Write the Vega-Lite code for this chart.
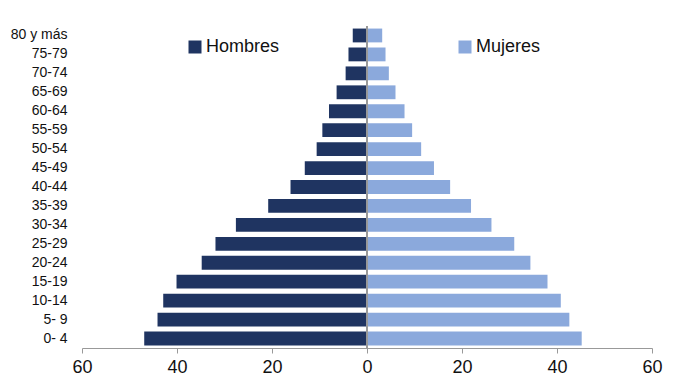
{
  "$schema": "https://vega.github.io/schema/vega-lite/v6.json",
  "width": 570,
  "height": 322,
  "autosize": "none",
  "padding": {"left": 82, "top": 26, "right": 33, "bottom": 37},
  "background": "white",
  "config": {"view": {"stroke": null}, "font": "Liberation Sans"},
  "data": {
    "values": [
      {"edad": "80 y más", "sexo": "Hombres", "valor": 3.0},
      {"edad": "75-79", "sexo": "Hombres", "valor": 3.9},
      {"edad": "70-74", "sexo": "Hombres", "valor": 4.5},
      {"edad": "65-69", "sexo": "Hombres", "valor": 6.4},
      {"edad": "60-64", "sexo": "Hombres", "valor": 8.0},
      {"edad": "55-59", "sexo": "Hombres", "valor": 9.4},
      {"edad": "50-54", "sexo": "Hombres", "valor": 10.6},
      {"edad": "45-49", "sexo": "Hombres", "valor": 13.1},
      {"edad": "40-44", "sexo": "Hombres", "valor": 16.1},
      {"edad": "35-39", "sexo": "Hombres", "valor": 20.8},
      {"edad": "30-34", "sexo": "Hombres", "valor": 27.6},
      {"edad": "25-29", "sexo": "Hombres", "valor": 31.9},
      {"edad": "20-24", "sexo": "Hombres", "valor": 34.8},
      {"edad": "15-19", "sexo": "Hombres", "valor": 40.1},
      {"edad": "10-14", "sexo": "Hombres", "valor": 42.9},
      {"edad": "5- 9", "sexo": "Hombres", "valor": 44.1},
      {"edad": "0- 4", "sexo": "Hombres", "valor": 46.9},
      {"edad": "80 y más", "sexo": "Mujeres", "valor": 3.2},
      {"edad": "75-79", "sexo": "Mujeres", "valor": 3.9},
      {"edad": "70-74", "sexo": "Mujeres", "valor": 4.6},
      {"edad": "65-69", "sexo": "Mujeres", "valor": 6.0},
      {"edad": "60-64", "sexo": "Mujeres", "valor": 7.9},
      {"edad": "55-59", "sexo": "Mujeres", "valor": 9.5},
      {"edad": "50-54", "sexo": "Mujeres", "valor": 11.4},
      {"edad": "45-49", "sexo": "Mujeres", "valor": 14.1},
      {"edad": "40-44", "sexo": "Mujeres", "valor": 17.5},
      {"edad": "35-39", "sexo": "Mujeres", "valor": 21.9},
      {"edad": "30-34", "sexo": "Mujeres", "valor": 26.2},
      {"edad": "25-29", "sexo": "Mujeres", "valor": 31.0},
      {"edad": "20-24", "sexo": "Mujeres", "valor": 34.4},
      {"edad": "15-19", "sexo": "Mujeres", "valor": 38.0},
      {"edad": "10-14", "sexo": "Mujeres", "valor": 40.8},
      {"edad": "5- 9", "sexo": "Mujeres", "valor": 42.6},
      {"edad": "0- 4", "sexo": "Mujeres", "valor": 45.2}
    ]
  },
  "layer": [
    {
      "transform": [
        {"calculate": "datum.sexo == 'Hombres' ? -datum.valor : datum.valor", "as": "x"}
      ],
      "mark": {"type": "bar"},
      "encoding": {
        "y": {
          "field": "edad",
          "type": "nominal",
          "sort": null,
          "title": null,
          "scale": {"paddingInner": 0.27, "paddingOuter": 0.135},
          "axis": {
            "domain": false,
            "ticks": false,
            "labelPadding": 15,
            "labelFont": "Liberation Sans",
            "labelFontSize": 14,
            "labelColor": "#111"
          }
        },
        "x": {
          "field": "x",
          "type": "quantitative",
          "stack": null,
          "title": null,
          "scale": {"domain": [-60, 60], "nice": false},
          "axis": {
            "values": [-60, -40, -20, 0, 20, 40, 60],
            "labelExpr": "format(abs(datum.value), 'd')",
            "grid": false,
            "domainColor": "#999",
            "tickColor": "#999",
            "tickSize": 5,
            "labelFontSize": 18,
            "labelColor": "#111",
            "labelPadding": 5,
            "labelFlush": false
          }
        },
        "color": {
          "field": "sexo",
          "type": "nominal",
          "scale": {"domain": ["Hombres", "Mujeres"], "range": ["#1f3461", "#8ba9dc"]},
          "legend": {
            "title": null,
            "orient": "none",
            "direction": "horizontal",
            "legendX": 104,
            "legendY": 12,
            "symbolType": "square",
            "symbolSize": 169,
            "symbolStrokeWidth": 0,
            "labelFontSize": 18,
            "labelColor": "#111",
            "labelOffset": 2,
            "columnPadding": 176
          }
        }
      }
    },
    {
      "mark": {"type": "rule", "color": "#999", "strokeWidth": 1},
      "encoding": {"x": {"datum": 0}}
    }
  ]
}
